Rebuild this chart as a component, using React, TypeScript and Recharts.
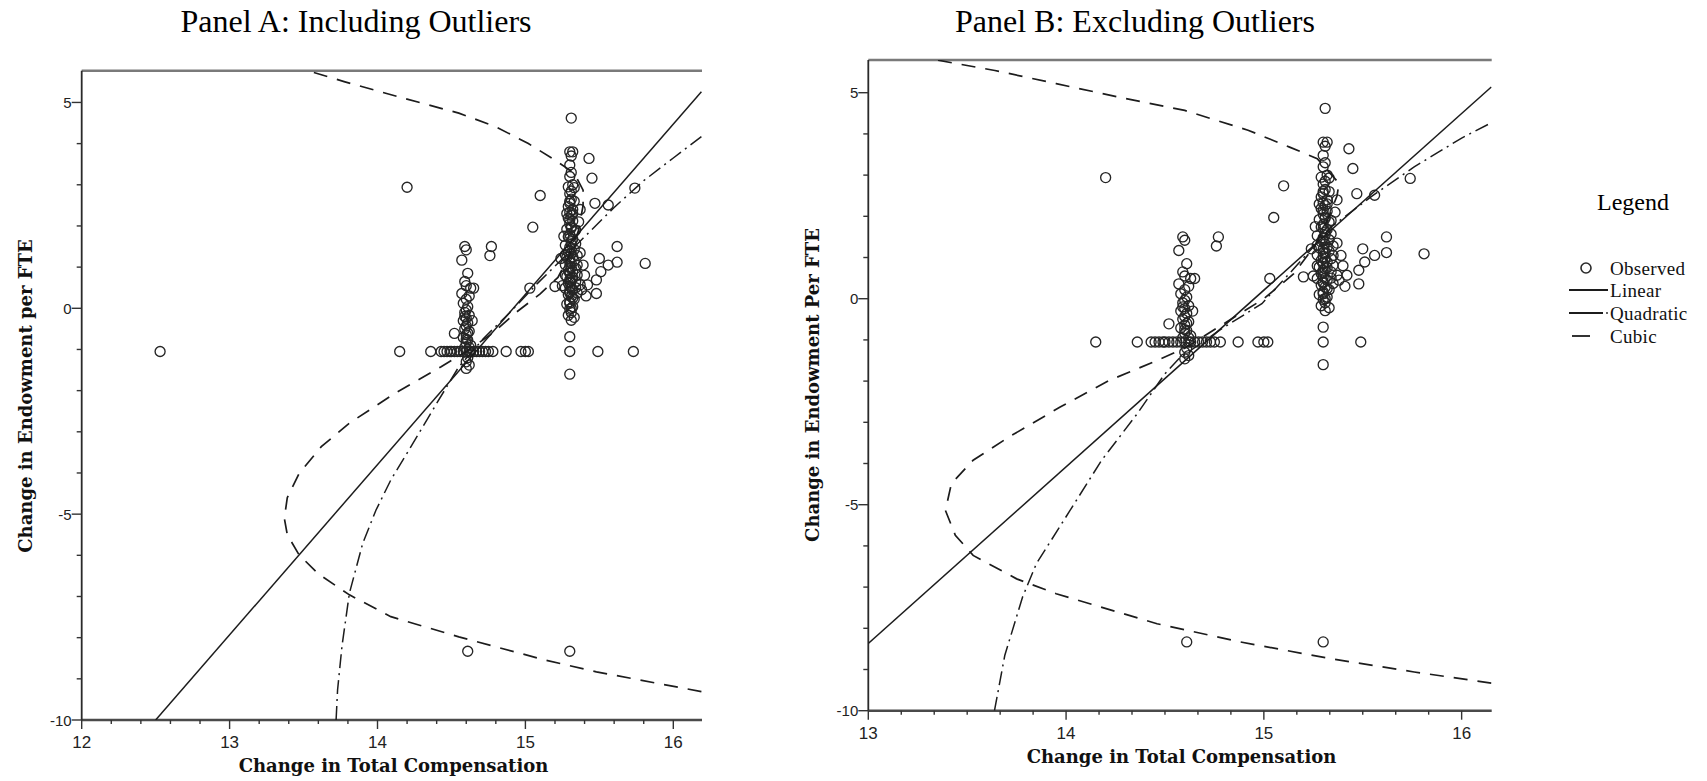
import { ReferenceLine, Scatter, ScatterChart, XAxis, YAxis } from "recharts";

type Pt = [number, number];

// observations common to both panels
const obsUpperColumn: Pt[] = [
  [15.3, 3.8], [15.32, 3.8], [15.31, 3.7], [15.3, 3.48], [15.31, 3.3], [15.3, 3.2], [15.32, 3.0],
  [15.29, 2.95], [15.33, 2.93], [15.3, 2.78], [15.31, 2.65], [15.3, 2.55], [15.29, 2.47], [15.32, 2.4],
  [15.3, 2.33], [15.31, 2.26], [15.29, 2.19], [15.32, 2.12], [15.3, 2.05], [15.31, 1.98], [15.28, 1.92],
  [15.33, 1.86], [15.3, 1.8], [15.29, 1.74], [15.32, 1.68], [15.31, 1.62], [15.34, 1.57], [15.27, 1.53],
  [15.3, 1.48], [15.33, 1.43], [15.29, 1.38], [15.31, 1.33], [15.35, 1.28], [15.28, 1.24], [15.3, 1.2],
  [15.33, 1.15], [15.31, 1.1], [15.27, 1.06], [15.3, 1.02], [15.34, 0.97], [15.29, 0.93], [15.32, 0.89],
  [15.3, 0.85], [15.35, 0.81], [15.28, 0.77], [15.31, 0.73], [15.3, 0.69], [15.34, 0.65], [15.29, 0.61],
  [15.37, 0.57], [15.3, 0.53], [15.27, 0.49], [15.32, 0.45], [15.3, 0.41], [15.35, 0.37], [15.29, 0.33],
  [15.31, 0.28], [15.33, 0.22], [15.3, 0.16], [15.28, 0.1], [15.32, 0.04], [15.3, -0.02], [15.31, -0.1],
  [15.29, -0.17], [15.33, -0.22], [15.31, -0.29], [15.37, 1.35], [15.39, 1.05], [15.4, 0.8],
  [15.38, 0.45], [15.41, 0.3], [15.36, 2.1], [15.37, 2.4], [15.26, 1.75], [15.25, 0.55],
  [15.31, 2.85], [15.3, 2.6], [15.32, 2.3], [15.3, 2.15], [15.31, 1.95], [15.3, 1.7], [15.31, 1.55],
  [15.3, 1.4], [15.32, 1.25], [15.3, 1.12], [15.31, 0.99], [15.3, 0.87], [15.32, 0.75], [15.3, 0.63],
  [15.31, 0.5], [15.3, 0.38], [15.32, 0.25], [15.3, 0.12], [15.31, 0.0], [15.34, 1.9], [15.27, 1.3],
  [15.34, 0.5], [15.27, 0.8], [15.35, 1.05], [15.33, 2.6], [15.28, 2.3],
];

const obsLowerColumn: Pt[] = [
  [14.59, 1.5], [14.6, 1.42], [14.57, 1.17], [14.61, 0.85], [14.59, 0.65], [14.63, 0.49], [14.65, 0.49],
  [14.57, 0.36], [14.6, 0.22], [14.58, 0.12], [14.61, 0.04], [14.6, -0.04], [14.59, -0.1], [14.62, -0.17],
  [14.6, -0.24], [14.58, -0.3], [14.61, -0.36], [14.64, -0.3], [14.6, -0.43], [14.59, -0.5], [14.62, -0.56],
  [14.52, -0.61], [14.6, -0.64], [14.58, -0.71], [14.61, -0.77], [14.6, -0.84], [14.63, -0.9],
  [14.59, -0.95], [14.61, -1.2], [14.6, -1.3], [14.6, -1.46], [14.62, -1.38], [14.77, 1.5], [14.76, 1.28],
  [14.6, 0.55], [14.62, 0.3], [14.59, -0.2], [14.61, -0.6], [14.6, -0.75], [14.62, -0.95],
];

// x values of the observations sitting on y = -1.05
const obsRowX = [
  14.15, 14.36, 14.43, 14.45, 14.47, 14.49, 14.5, 14.52, 14.54, 14.56, 14.58, 14.6, 14.62, 14.63, 14.65,
  14.67, 14.69, 14.71, 14.73, 14.75, 14.78, 14.87, 14.97, 15.0, 15.02, 15.3, 15.49,
];
const obsRowY = -1.05;

const obsScattered: Pt[] = [
  [14.2, 2.94], [15.31, 4.62], [15.43, 3.64], [15.45, 3.16], [15.1, 2.74], [15.05, 1.97], [15.74, 2.92],
  [15.47, 2.55], [15.56, 2.51], [15.62, 1.5], [15.81, 1.09], [15.62, 1.12], [15.5, 1.21], [15.56, 1.05],
  [15.51, 0.89], [15.48, 0.69], [15.48, 0.36], [15.42, 0.57], [15.2, 0.53], [15.24, 1.21], [15.03, 0.49],
  [15.3, -0.69], [15.3, -1.6], [14.61, -8.33], [15.3, -8.33],
];

// only in panel A
const obsOutliersA: Pt[] = [[12.53, -1.05], [15.73, -1.05]];

// fitted curves, panel A
const linearA: Pt[] = [[12.5, -10], [16.19, 5.26]];
const quadraticA: Pt[] = [
  [13.72, -10], [13.73, -9.27], [13.76, -8.2], [13.81, -6.92], [13.9, -5.71], [13.99, -4.9], [14.09, -4.17],
  [14.2, -3.52], [14.4, -2.31], [14.55, -1.42], [14.72, -0.72], [14.89, -0.12], [15.08, 0.6], [15.25, 1.2],
  [15.39, 1.7], [15.6, 2.45], [15.8, 3.1], [16.0, 3.65], [16.19, 4.17],
];
const cubicA: Pt[] = [
  [16.19, -9.31], [15.48, -8.83], [15.14, -8.55], [14.55, -7.98], [14.09, -7.49], [13.81, -6.96],
  [13.6, -6.45], [13.47, -5.99], [13.39, -5.5], [13.37, -5.1], [13.39, -4.6], [13.47, -4.01], [13.62, -3.36],
  [13.81, -2.79], [14.12, -2.06], [14.43, -1.42], [14.6, -1.05], [14.78, -0.6], [14.93, -0.12], [15.1, 0.35],
  [15.22, 0.75], [15.3, 1.3], [15.36, 1.9], [15.39, 2.5], [15.39, 2.87], [15.33, 3.28], [15.2, 3.6],
  [15.02, 4.0], [14.8, 4.41], [14.55, 4.74], [14.18, 5.1], [13.78, 5.5], [13.53, 5.77],
];

// fitted curves, panel B
const linearB: Pt[] = [[13, -8.37], [16.15, 5.14]];
const quadraticB: Pt[] = [
  [13.638, -10], [13.69, -8.66], [13.78, -7.24], [13.85, -6.43], [14.02, -5.14], [14.18, -3.92],
  [14.36, -2.79], [14.5, -1.82], [14.57, -1.46], [14.78, -0.75], [14.99, -0.12], [15.15, 0.72],
  [15.34, 1.74], [15.55, 2.5], [15.76, 3.2], [16.0, 3.9], [16.15, 4.27],
];
const cubicB: Pt[] = [
  [16.15, -9.33], [15.76, -9.06], [15.34, -8.74], [14.88, -8.33], [14.46, -7.89], [13.95, -7.16],
  [13.75, -6.8], [13.53, -6.23], [13.44, -5.74], [13.39, -5.14], [13.42, -4.49], [13.53, -3.92],
  [13.71, -3.36], [13.97, -2.63], [14.22, -1.98], [14.46, -1.5], [14.6, -1.2], [14.8, -0.6], [15.0, 0.0],
  [15.15, 0.6], [15.26, 1.3], [15.33, 2.0], [15.37, 2.5], [15.38, 2.8], [15.27, 3.4], [15.13, 3.68],
  [14.92, 4.09], [14.6, 4.57], [14.27, 4.89], [13.95, 5.22], [13.64, 5.54], [13.35, 5.79],
];

const xTicksA = [12, 13, 14, 15, 16];
const xTicksB = [13, 14, 15, 16];
const yTicks = [-10, -5, 0, 5];

const toXY = (pts: Pt[]) => pts.map(([x, y]) => ({ x, y }));

const INK = "#1c1c1c";
const tickFont = "'Liberation Sans Narrow', 'Liberation Sans', Arial, sans-serif";
const serif = "'Liberation Serif', 'Times New Roman', serif";
const boldSerif = "'DejaVu Serif', serif";

const near = (list: number[], v: number) => list.some((m) => Math.abs(m - v) < 1e-6);

function steps(from: number, to: number, step: number) {
  const out: number[] = [];
  for (let i = 0; from + i * step <= to + 1e-9; i++) out.push(+(from + i * step).toFixed(4));
  return out;
}

const makeXTick = (majors: number[]) => (p: any) => {
  const v = p.payload.value;
  const major = near(majors, v);
  return (
    <g>
      <line x1={p.x} x2={p.x} y1={p.y} y2={p.y + (major ? 9 : 4)} stroke="#333" strokeWidth={1.4} />
      {major && (
        <text x={p.x} y={p.y + 28} textAnchor="middle" fontSize={17} fontFamily={tickFont} fill="#222">
          {v}
        </text>
      )}
    </g>
  );
};

const makeYTick = (majors: number[]) => (p: any) => {
  const v = p.payload.value;
  const major = near(majors, v);
  return (
    <g>
      <line x1={p.x} x2={p.x - (major ? 10 : 5)} y1={p.y} y2={p.y} stroke="#333" strokeWidth={1.4} />
      {major && (
        <text x={p.x - 10} y={p.y + 5.5} textAnchor="end" fontSize={15} fontFamily={tickFont} fill="#222">
          {v}
        </text>
      )}
    </g>
  );
};

const Circle = (p: any) => (
  <circle cx={p.cx} cy={p.cy} r={5} fill="none" stroke="#262626" strokeWidth={1.35} />
);
const NoMark = () => <g />;

function Panel(props: {
  width: number;
  margin: { top: number; right: number; bottom: number; left: number };
  xDomain: [number, number];
  yTop: number;
  xMajor: number[];
  xStep: number;
  obs: Pt[];
  linear: Pt[];
  quadratic: Pt[];
  cubic: Pt[];
}) {
  const { width, margin, xDomain, yTop, xMajor, xStep, obs, linear, quadratic, cubic } = props;
  const xTicks = steps(xDomain[0], xDomain[1], xStep);
  const yAll = steps(-10, 5, 1);
  return (
    <ScatterChart width={width} height={781} margin={margin}>
      <XAxis
        type="number"
        dataKey="x"
        domain={xDomain}
        allowDataOverflow
        ticks={xTicks}
        interval={0}
        height={30}
        tickSize={0}
        tickMargin={0}
        tick={makeXTick(xMajor)}
        axisLine={{ stroke: "#4a4a4a", strokeWidth: 2.5 }}
        tickLine={false}
      />
      <YAxis
        type="number"
        dataKey="y"
        domain={[-10, yTop]}
        allowDataOverflow
        ticks={yAll}
        interval={0}
        width={40}
        tickSize={0}
        tickMargin={0}
        tick={makeYTick(yTicks)}
        axisLine={{ stroke: "#2a2a2a", strokeWidth: 1.8 }}
        tickLine={false}
      />
      <ReferenceLine y={yTop} stroke="#7a7a7a" strokeWidth={2.5} />
      <Scatter data={toXY(obs)} shape={Circle} isAnimationActive={false} />
      <Scatter
        data={toXY(linear)}
        shape={NoMark}
        line={{ stroke: INK, strokeWidth: 1.5 }}
        isAnimationActive={false}
      />
      <Scatter
        data={toXY(quadratic)}
        shape={NoMark}
        line={{ stroke: INK, strokeWidth: 1.5, strokeDasharray: "14 5 2 5" }}
        isAnimationActive={false}
      />
      <Scatter
        data={toXY(cubic)}
        shape={NoMark}
        line={{ stroke: INK, strokeWidth: 1.7, strokeDasharray: "14 10" }}
        isAnimationActive={false}
      />
    </ScatterChart>
  );
}

export default function App() {
  const common: Pt[] = [
    ...obsScattered,
    ...obsUpperColumn,
    ...obsLowerColumn,
    ...obsRowX.map((x) => [x, obsRowY] as Pt),
  ];
  const obsA = [...common, ...obsOutliersA];
  const obsB = common;

  return (
    <div style={{ position: "absolute", left: 0, top: 0, width: 1707, height: 781, background: "#fff" }}>
      <div style={{ position: "absolute", left: 0, top: 0 }}>
        <Panel
          width={720}
          margin={{ top: 70.7, right: 18, bottom: 31, left: 41.7 }}
          xDomain={[12, 16.194]}
          yTop={5.771}
          xMajor={xTicksA}
          xStep={0.2}
          obs={obsA}
          linear={linearA}
          quadratic={quadraticA}
          cubic={cubicA}
        />
      </div>
      <div style={{ position: "absolute", left: 780, top: 0 }}>
        <Panel
          width={730}
          margin={{ top: 60, right: 18.3, bottom: 40.3, left: 48.3 }}
          xDomain={[13, 16.152]}
          yTop={5.794}
          xMajor={xTicksB}
          xStep={1 / 6}
          obs={obsB}
          linear={linearB}
          quadratic={quadraticB}
          cubic={cubicB}
        />
      </div>
      <svg
        width={1707}
        height={781}
        style={{ position: "absolute", left: 0, top: 0, pointerEvents: "none" }}
      >
        <g fontFamily={serif} fontSize={32} fill="#000" textAnchor="middle">
          <text x={356} y={32}>Panel A: Including Outliers</text>
          <text x={1135} y={32}>Panel B: Excluding Outliers</text>
        </g>
        <g fontFamily={boldSerif} fontWeight="bold" fontSize={18} fill="#111" textAnchor="middle">
          <text x={393.5} y={772}>Change in Total Compensation</text>
          <text x={1181.5} y={763}>Change in Total Compensation</text>
          <text transform="translate(32,396) rotate(-90)">Change in Endowment per FTE</text>
          <text transform="translate(819,385) rotate(-90)">Change in Endowment Per FTE</text>
        </g>
        <text x={1633} y={210} fontFamily={serif} fontSize={24} textAnchor="middle">
          Legend
        </text>
        <circle cx={1586} cy={268} r={5} fill="none" stroke="#2a2a2a" strokeWidth={1.6} />
        <line x1={1569} x2={1608} y1={290} y2={290} stroke={INK} strokeWidth={1.8} />
        <line x1={1569} x2={1603} y1={313} y2={313} stroke={INK} strokeWidth={1.8} />
        <circle cx={1607} cy={313} r={0.9} fill={INK} />
        <line x1={1572} x2={1590} y1={336} y2={336} stroke={INK} strokeWidth={1.8} />
        <g fontFamily={serif} fontSize={19} fill="#111" letterSpacing={0.3}>
          <text x={1610} y={274.5}>Observed</text>
          <text x={1610} y={296.5}>Linear</text>
          <text x={1610} y={319.5}>Quadratic</text>
          <text x={1610} y={342.5}>Cubic</text>
        </g>
      </svg>
    </div>
  );
}
